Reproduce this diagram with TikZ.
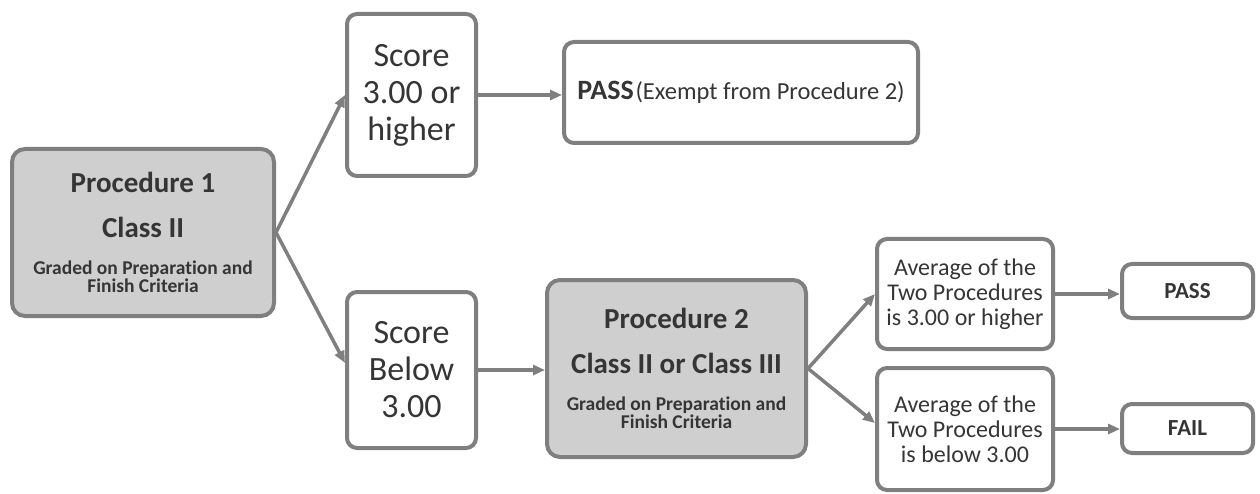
\documentclass[tikz,border=0pt]{standalone}
\usepackage{fontspec}
\setmainfont{Carlito}[Ligatures=NoCommon]
\usepackage{tikz}
\usetikzlibrary{shapes,arrows.meta}
\definecolor{edgegray}{HTML}{7F7F7F}
\definecolor{shadegray}{HTML}{CFCFCF}
\definecolor{inkgray}{HTML}{353535}
\setlength{\lineskiplimit}{-100pt}
\newcommand{\headfont}{\fontsize{29}{30}\selectfont\bfseries}
\newcommand{\notefont}{\fontsize{19.5}{18}\selectfont\bfseries}
\tikzstyle{box} = [rectangle, rounded corners=10pt, draw=edgegray, line width=4pt, text=inkgray, align=center, inner sep=0pt]
\tikzstyle{proc} = [box, fill=shadegray, rounded corners=13pt, font=\fontsize{19.5}{18}\selectfont]
\tikzstyle{score} = [box, minimum width=129pt, font=\fontsize{34}{37}\selectfont]
\tikzstyle{avg} = [box, minimum width=176pt, font=\fontsize{24}{25}\selectfont]
\tikzstyle{result} = [box, minimum width=131pt, font=\fontsize{23}{25}\selectfont\bfseries]
\tikzstyle{arrow} = [draw=edgegray, line width=3.5pt, -{Triangle[length=12pt,width=10pt]}]

\begin{document}
\begin{tikzpicture}
    \useasboundingbox (0pt,0pt) rectangle (1260pt,-494pt);
    % first procedure and its two outcomes
    \node (P1) [proc, xshift=143pt, yshift=-232.5pt, minimum width=262pt, minimum height=167pt]
        {{\headfont Procedure 1}\\[27pt]{\headfont Class II}\\[19pt]{\notefont Graded on Preparation and}\\{\notefont Finish Criteria}};
    \node (S1) [score, xshift=411.5pt, yshift=-95pt, minimum height=162pt] {Score\\3.00 or\\higher};
    \node (Pass1) [box, xshift=741pt, yshift=-92.5pt, minimum width=354pt, minimum height=101pt]
        {{\fontsize{28}{30}\selectfont\bfseries PASS}\,{\fontsize{24.5}{25}\selectfont (Exempt from Procedure 2)}};
    \node (S2) [score, xshift=411.5pt, yshift=-370pt, minimum height=156pt] {Score\\Below\\3.00};

    % second procedure
    \node (P2) [proc, xshift=676.5pt, yshift=-368.5pt, minimum width=259pt, minimum height=177pt]
        {{\headfont Procedure 2}\\[27pt]{\headfont Class II or Class III}\\[19pt]{\notefont Graded on Preparation and}\\{\notefont Finish Criteria}};
    \node (A1) [avg, xshift=965pt, yshift=-294pt, minimum height=110pt] {Average of the\\Two Procedures\\is 3.00 or higher};
    \node (A2) [avg, xshift=965pt, yshift=-429pt, minimum height=122pt] {Average of the\\Two Procedures\\is below 3.00};
    \node (Pass2) [result, xshift=1187.5pt, yshift=-291pt, minimum height=54pt] {PASS};
    \node (Fail) [result, xshift=1187.5pt, yshift=-428.5pt, minimum height=49pt] {FAIL};

    \path [arrow] (P1.east) -- (S1.west);
    \path [arrow] (P1.east) -- ([yshift=7pt]S2.west);
    \path [arrow] (S1.east) -- (S1.east -| Pass1.west);
    \path [arrow] (S2.east) -- (S2.east -| P2.west);
    \path [arrow] (P2.east) -- (A1.west);
    \path [arrow] (P2.east) -- ([yshift=6pt]A2.west);
    \path [arrow] (A1.east) -- (A1.east -| Pass2.west);
    \path [arrow] (A2.east) -- (A2.east -| Fail.west);
\end{tikzpicture}
\end{document}
